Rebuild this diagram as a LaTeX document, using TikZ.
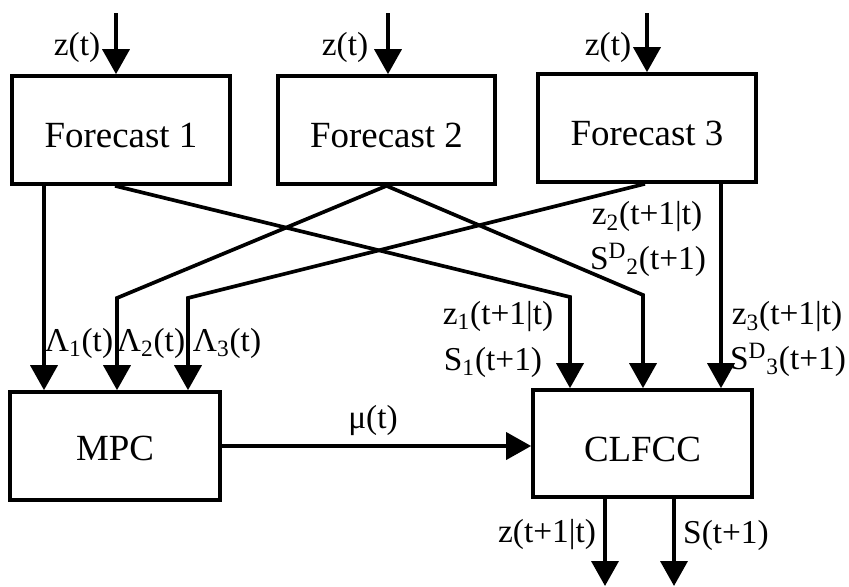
\documentclass[tikz,border=0pt]{standalone}
\usepackage{fontspec}
\setmainfont{Liberation Serif}
\usetikzlibrary{arrows.meta,calc,positioning}

\begin{document}
\begin{tikzpicture}[x=0.02cm,y=-0.02cm,
  every node/.style={font=\fontsize{19}{22}\selectfont},
  block/.style={draw,line width=2.1pt,minimum width=4.36cm,minimum height=2.16cm,
    font=\fontsize{21}{24}\selectfont,text height=20pt,text depth=0pt,inner sep=0pt},
  flow/.style={line width=2.1pt,-{Triangle[width=0.54cm,length=0.5cm]}}]
  \useasboundingbox (0,0) rectangle (849,586);
  % blocks
  \node[block] (fc1) at (121,130) {Forecast 1};
  \node[block,minimum width=4.34cm] (fc2) at (386.5,130) {Forecast 2};
  \node[block] (fc3) at (647,128) {Forecast 3};
  \node[block,minimum width=4.2cm,text height=16pt] (mpc) at (115,446) {MPC};
  \node[block,minimum width=4.38cm,minimum height=2.14cm] (clfcc) at (642.5,443.5) {CLFCC};
  % inputs z(t)
  \coordinate (in1) at (116,13);
  \coordinate (in2) at (388,13);
  \coordinate (in3) at (647,13);
  \draw[flow] (in1) -- (in1 |- fc1.north);
  \draw[flow] (in2) -- (in2 |- fc2.north);
  \draw[flow] (in3) -- (in3 |- fc3.north);
  \node (zin1) at (77,47) {z(t)};
  \node (zin2) at (345,47) {z(t)};
  \node (zin3) at (608,47) {z(t)};
  % Forecast 1
  \coordinate (l1) at (44,0);
  \coordinate (k1) at (570,297);
  \draw[flow] (l1 |- fc1.south) -- (l1 |- mpc.north);
  \draw[flow] ($(fc1.south)+(-6,0)$) -- (k1) -- (k1 |- clfcc.north);
  % Forecast 2
  \coordinate (k2) at (117,298);
  \coordinate (k3) at (643,295);
  \draw[flow] (fc2.south) -- (k2) -- (k2 |- mpc.north);
  \draw[flow] (fc2.south) -- (k3) -- (k3 |- clfcc.north);
  % Forecast 3
  \coordinate (k4) at (188,298);
  \coordinate (r3) at (721,0);
  \draw[flow] ($(fc3.south)+(-2,0)$) -- (k4) -- (k4 |- mpc.north);
  \draw[flow] (r3 |- fc3.south) -- (r3 |- clfcc.north);
  % MPC to CLFCC
  \draw[flow] (mpc.east) -- (mpc.east -| clfcc.west);
  \node (mu) at (373,420) {μ(t)};
  % outputs
  \coordinate (o1) at (605,586);
  \coordinate (o2) at (674,586);
  \draw[flow] (o1 |- clfcc.south) -- (o1);
  \draw[flow] (o2 |- clfcc.south) -- (o2);
  \node (zout) at (547,535) {z(t+1|t)};
  \node (sout) at (726,535) {S(t+1)};
  % signal labels
  \node (lam1) at (79,343) {Λ\textsubscript{1}(t)};
  \node (lam2) at (151,343) {Λ\textsubscript{2}(t)};
  \node (lam3) at (227,343) {Λ\textsubscript{3}(t)};
  \node (z1) at (498,317) {z\textsubscript{1}(t+1|t)};
  \node (s1) at (493,362) {S\textsubscript{1}(t+1)};
  \node (z2) at (647,217) {z\textsubscript{2}(t+1|t)};
  \node (s2) at (648,260) {S\textsuperscript{D}\textsubscript{2}(t+1)};
  \node (z3) at (787,317) {z\textsubscript{3}(t+1|t)};
  \node (s3) at (788,360) {S\textsuperscript{D}\textsubscript{3}(t+1)};
\end{tikzpicture}
\end{document}
